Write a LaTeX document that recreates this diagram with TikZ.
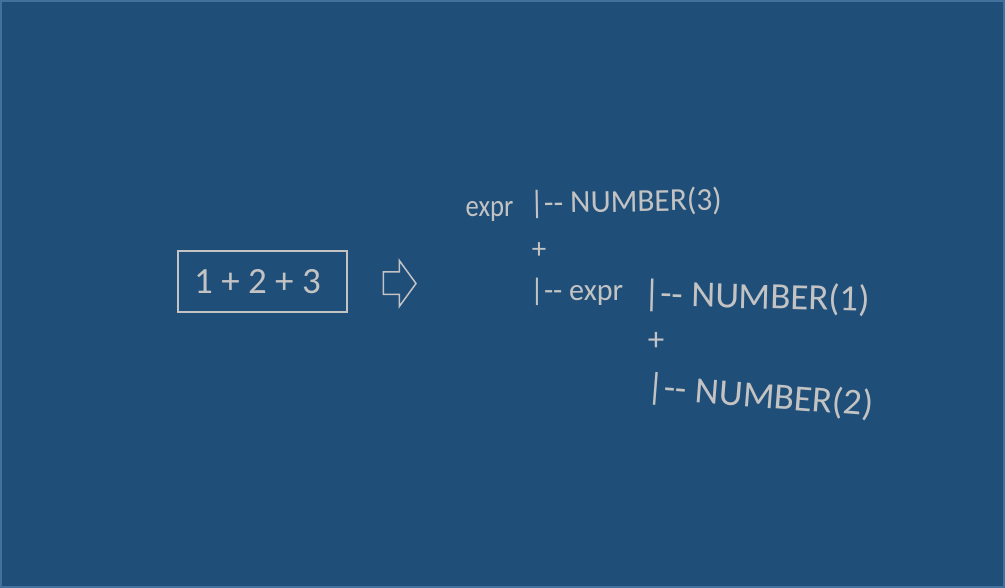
\documentclass[tikz,border=0pt]{standalone}
\usepackage{fontspec}
\setmainfont{Carlito}
\definecolor{bgblue}{HTML}{1F4E79}
\definecolor{edgeblue}{HTML}{41719C}
\definecolor{txtgrey}{HTML}{C3C3C3}
\tikzset{
  lbl/.style={text=txtgrey, inner sep=0pt, anchor=base west},
  plus/.style={text=txtgrey, inner sep=0pt, anchor=center},
  fs/.style={font=\fontsize{#1}{#1}\selectfont}
}
\begin{document}
\begin{tikzpicture}[x=1pt,y=-1pt]
\useasboundingbox (0,0) rectangle (1005,588);
\fill[bgblue] (0,0) rectangle (1005,588);
\draw[edgeblue, line width=2pt] (1,1) rectangle (1004,587);

% input box
\node[draw=txtgrey, line width=1.8pt, minimum width=169pt, minimum height=61pt, inner sep=0pt] (box) at (262.5,281.2) {};
\node[text=txtgrey, inner sep=0pt, anchor=base, fs=37] (expr0) at (257.5,293.5) {1 + 2 + 3};

% block arrow
\draw[txtgrey, line width=1.5pt, line join=miter] (383.3,272) -- (399.3,272) -- (399.3,260.5) -- (416,283.5) -- (399.3,306.5) -- (399.3,294.5) -- (383.3,294.5) -- cycle;

% tree text
\node[lbl, fs=31, xscale=0.86] (e1) at (465.5,217) {expr};
\node[lbl, fs=32, xscale=0.98, rotate=1] (n3) at (529.6,213.5) {|-{}- NUMBER(3)};
\node[plus, fs=29] (p1) at (539,250.5) {+};
\node[lbl, fs=31, xscale=0.97] (e2) at (530,301) {|-{}- expr};
\node[lbl, fs=37, rotate=-1.5] (n1) at (643,305.5) {|-{}- NUMBER(1)};
\node[plus, fs=33] (p2) at (656,341.5) {+};
\node[lbl, fs=37, rotate=-4.5] (n2) at (646.5,398.5) {|-{}- NUMBER(2)};
\end{tikzpicture}
\end{document}
